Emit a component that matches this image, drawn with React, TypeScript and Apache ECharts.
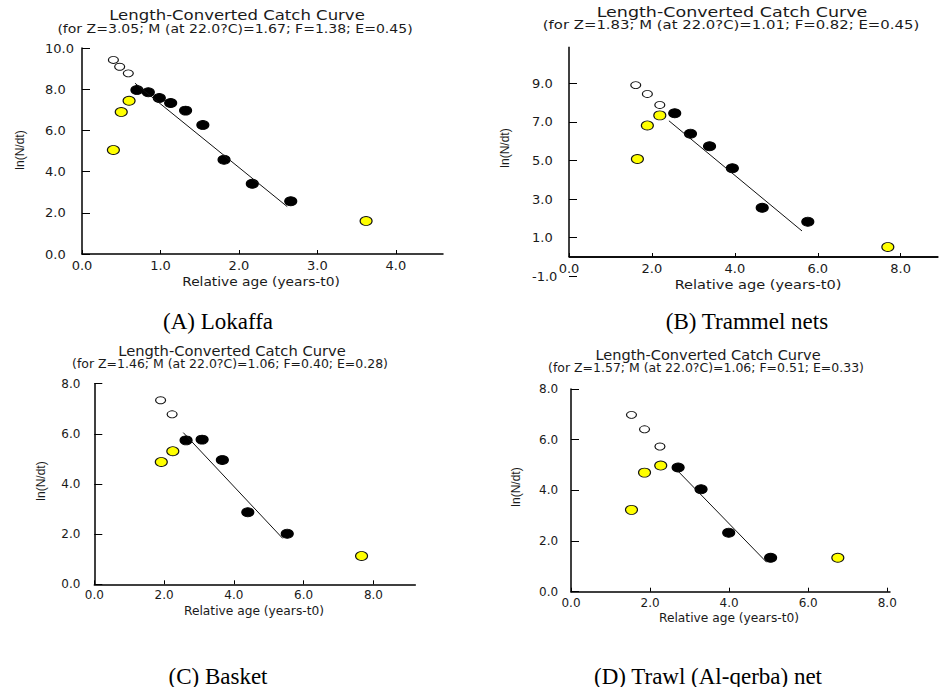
import React, { useEffect, useRef } from 'react';
import * as echarts from 'echarts';

const titleMain = 'Length-Converted Catch Curve';
const subtitles = [
  '(for Z=3.05; M (at 22.0?C)=1.67; F=1.38; E=0.45)',
  '(for Z=1.83; M (at 22.0?C)=1.01; F=0.82; E=0.45)',
  '(for Z=1.46; M (at 22.0?C)=1.06; F=0.40; E=0.28)',
  '(for Z=1.57; M (at 22.0?C)=1.06; F=0.51; E=0.33)',
];
const captions = ['(A) Lokaffa', '(B) Trammel nets', '(C) Basket', '(D) Trawl (Al-qerba) net'];
const xName = 'Relative age (years-t0)';
const yName = 'ln(N/dt)';

// Panel A – Lokaffa
const openA = [[0.40, 9.42], [0.48, 9.09], [0.59, 8.77]];
const yellowA = [[0.40, 5.05], [0.50, 6.89], [0.60, 7.44], [3.62, 1.60]];
const blackA = [[0.70, 7.96], [0.845, 7.85], [0.985, 7.57], [1.13, 7.33], [1.32, 6.96], [1.54, 6.26], [1.81, 4.58], [2.17, 3.41], [2.66, 2.56]];
const fitA = [[0.675, 8.29], [2.615, 2.30]];

// Panel B – Trammel nets
const openB = [[1.61, 8.91], [1.89, 8.45], [2.19, 7.88]];
const yellowB = [[1.65, 5.08], [1.89, 6.82], [2.19, 7.34], [7.69, 0.52]];
const blackB = [[2.55, 7.45], [2.93, 6.39], [3.39, 5.74], [3.94, 4.60], [4.66, 2.55], [5.76, 1.83]];
const fitB = [[2.41, 7.06], [5.62, 1.35]];

// Panel C – Basket
const openC = [[1.90, 7.34], [2.23, 6.78]];
const yellowC = [[1.92, 4.88], [2.25, 5.31], [7.66, 1.13]];
const blackC = [[2.63, 5.74], [3.09, 5.77], [3.67, 4.96], [4.40, 2.87], [5.53, 2.02]];
const fitC = [[2.55, 6.05], [5.40, 1.83]];

// Panel D – Trawl (Al-qerba) net
const openD = [[1.53, 6.98], [1.86, 6.41], [2.25, 5.73]];
const yellowD = [[1.53, 3.23], [1.86, 4.70], [2.27, 4.98], [6.75, 1.34]];
const blackD = [[2.71, 4.90], [3.29, 4.04], [3.99, 2.33], [5.05, 1.34]];
const fitD = [[2.70, 4.77], [4.95, 1.16]];

const INK = '#1a1a1a';
const AXIS = '#000000';
const SANS = '"DejaVu Sans", sans-serif';

const panels = [
  {
    grid: { left: 82, top: 48, width: 361, height: 206 },
    xMax: 4.6, xInt: 1, yMin: 0, yMax: 10, yInt: 2, yLabelMargin: 37, tickFont: 13, xOffset: 0,
    open: openA, yellow: yellowA, black: blackA, fit: fitA, yLineToZero: false,
    title: { x: 237, y: 15, sx: 1.18 }, sub: { x: 235, y: 29, sx: 1.17 },
    xlab: { x: 261, y: 282, fs: 13, sx: 1.06 }, ylab: { x: 20, y: 150 }, cap: { x: 218, y: 321 },
  },
  {
    grid: { left: 569, top: 46.7, width: 369, height: 229.6 },
    xMax: 8.9, xInt: 2, yMin: -1, yMax: 10.9, yInt: 2, yLabelMargin: 37, tickFont: 13, xOffset: -19.3,
    open: openB, yellow: yellowB, black: blackB, fit: fitB, yLineToZero: true,
    title: { x: 732, y: 11.7, sx: 1.25 }, sub: { x: 731, y: 25, sx: 1.24 },
    xlab: { x: 758, y: 284, fs: 13, sx: 1.12 }, ylab: { x: 505, y: 148 }, cap: { x: 747, y: 321 },
  },
  {
    grid: { left: 94.3, top: 383.7, width: 321, height: 200.6 },
    xMax: 9.2, xInt: 2, yMin: 0, yMax: 8, yInt: 2, yLabelMargin: 33, tickFont: 12, xOffset: 0,
    open: openC, yellow: yellowC, black: blackC, fit: fitC, yLineToZero: false,
    title: { x: 232, y: 351, sx: 1.05 }, sub: { x: 230, y: 364, sx: 1.04 },
    xlab: { x: 254, y: 611, fs: 12, sx: 1.02 }, ylab: { x: 41, y: 481 }, cap: { x: 218, y: 676 },
  },
  {
    grid: { left: 571, top: 389, width: 319, height: 202.7 },
    xMax: 8.07, xInt: 2, yMin: 0, yMax: 8, yInt: 2, yLabelMargin: 32, tickFont: 12, xOffset: 0,
    open: openD, yellow: yellowD, black: blackD, fit: fitD, yLineToZero: false,
    title: { x: 708, y: 355, sx: 1.04 }, sub: { x: 706, y: 368, sx: 1.04 },
    xlab: { x: 729, y: 618.5, fs: 12, sx: 1.02 }, ylab: { x: 516, y: 487 }, cap: { x: 708, y: 676 },
  },
];

function buildOption() {
  const grids: any[] = [];
  const xAxes: any[] = [];
  const yAxes: any[] = [];
  const series: any[] = [];
  const graphics: any[] = [];

  panels.forEach((p, i) => {
    grids.push({ left: p.grid.left, top: p.grid.top, width: p.grid.width, height: p.grid.height });
    xAxes.push({
      type: 'value', gridIndex: i, min: 0, max: p.xMax, interval: p.xInt, offset: p.xOffset,
      axisLine: { show: true, onZero: false, lineStyle: { color: AXIS, width: 1.5 } },
      axisTick: { show: true, inside: true, length: 4, lineStyle: { color: AXIS, width: 1 } },
      axisLabel: {
        show: true, margin: 5, showMaxLabel: false, color: INK, fontFamily: SANS, fontSize: p.tickFont,
        formatter: (v: number) => v.toFixed(1),
      },
      splitLine: { show: false },
    });
    yAxes.push({
      type: 'value', gridIndex: i, min: p.yMin, max: p.yMax, interval: p.yInt,
      axisLine: { show: !p.yLineToZero, lineStyle: { color: AXIS, width: 1.5 } },
      axisTick: { show: true, inside: true, length: 8, lineStyle: { color: AXIS, width: 1 } },
      axisLabel: {
        show: true, align: 'left', margin: p.yLabelMargin, showMaxLabel: !p.yLineToZero,
        color: INK, fontFamily: SANS, fontSize: p.tickFont,
        formatter: (v: number) => v.toFixed(1),
      },
      splitLine: { show: false },
    });

    series.push({
      type: 'line', xAxisIndex: i, yAxisIndex: i, data: p.fit, symbol: 'none',
      lineStyle: { color: '#111', width: 1 },
    });
    series.push({
      type: 'scatter', xAxisIndex: i, yAxisIndex: i, data: p.open, symbol: 'circle', symbolSize: [10, 7],
      itemStyle: { color: '#ffffff', borderColor: '#111', borderWidth: 1, opacity: 1 },
    });
    series.push({
      type: 'scatter', xAxisIndex: i, yAxisIndex: i, data: p.yellow, symbol: 'circle', symbolSize: [12, 9],
      itemStyle: { color: '#ffff00', borderColor: '#111', borderWidth: 1, opacity: 1 },
    });
    series.push({
      type: 'scatter', xAxisIndex: i, yAxisIndex: i, data: p.black, symbol: 'circle', symbolSize: [12, 9],
      itemStyle: { color: '#000000', borderColor: '#000', borderWidth: 1, opacity: 1 },
    });

    graphics.push({
      type: 'text', x: p.title.x, y: p.title.y, scaleX: p.title.sx,
      style: { text: titleMain, fontFamily: SANS, fontSize: 14, fill: INK, align: 'center', verticalAlign: 'middle' },
    });
    graphics.push({
      type: 'text', x: p.sub.x, y: p.sub.y, scaleX: p.sub.sx,
      style: { text: subtitles[i], fontFamily: SANS, fontSize: 12, fill: INK, align: 'center', verticalAlign: 'middle' },
    });
    graphics.push({
      type: 'text', x: p.xlab.x, y: p.xlab.y, scaleX: p.xlab.sx,
      style: { text: xName, fontFamily: SANS, fontSize: p.xlab.fs, fill: INK, align: 'center', verticalAlign: 'middle' },
    });
    graphics.push({
      type: 'text', x: p.ylab.x, y: p.ylab.y, rotation: Math.PI / 2,
      style: { text: yName, fontFamily: '"Liberation Sans", Arial, sans-serif', fontSize: 12, fill: INK, align: 'center', verticalAlign: 'middle' },
    });
    graphics.push({
      type: 'text', x: p.cap.x, y: p.cap.y,
      style: { text: captions[i], fontFamily: '"Liberation Serif", "Times New Roman", serif', fontSize: 23, fill: '#000', align: 'center', verticalAlign: 'middle' },
    });
  });

  return {
    animation: false,
    grid: grids,
    xAxis: xAxes,
    yAxis: yAxes,
    series,
    graphic: { elements: graphics },
  };
}

export default function App() {
  const ref = useRef<HTMLDivElement>(null);
  useEffect(() => {
    if (!ref.current) return;
    const chart = echarts.init(ref.current, undefined, { renderer: 'svg' });
    const option: any = buildOption();
    chart.setOption(option);

    // Panel B: axis lines meeting at y = 0, positioned through the grid's own scales
    const extra: any[] = [];
    panels.forEach((p, i) => {
      if (!p.yLineToZero) return;
      const o = chart.convertToPixel({ gridIndex: i } as any, [0, 0]) as number[];
      const t = chart.convertToPixel({ gridIndex: i } as any, [0, p.yMax]) as number[];
      const r = chart.convertToPixel({ gridIndex: i } as any, [p.xMax, 0]) as number[];
      if (!o || !t || !r) return;
      extra.push({
        type: 'line', z: 50, silent: true,
        shape: { x1: o[0], y1: o[1], x2: r[0], y2: r[1] },
        style: { stroke: AXIS, lineWidth: 1.5 },
      });
      extra.push({
        type: 'line', z: 50, silent: true,
        shape: { x1: o[0], y1: o[1], x2: t[0], y2: t[1] },
        style: { stroke: AXIS, lineWidth: 1.5 },
      });
    });
    if (extra.length) {
      chart.setOption({ graphic: { elements: [...option.graphic.elements, ...extra] } } as any);
    }
    return () => chart.dispose();
  }, []);
  return (
    <div
      ref={ref}
      style={{ position: 'fixed', left: 0, top: 0, width: 939, height: 687, background: '#fff' }}
    />
  );
}
